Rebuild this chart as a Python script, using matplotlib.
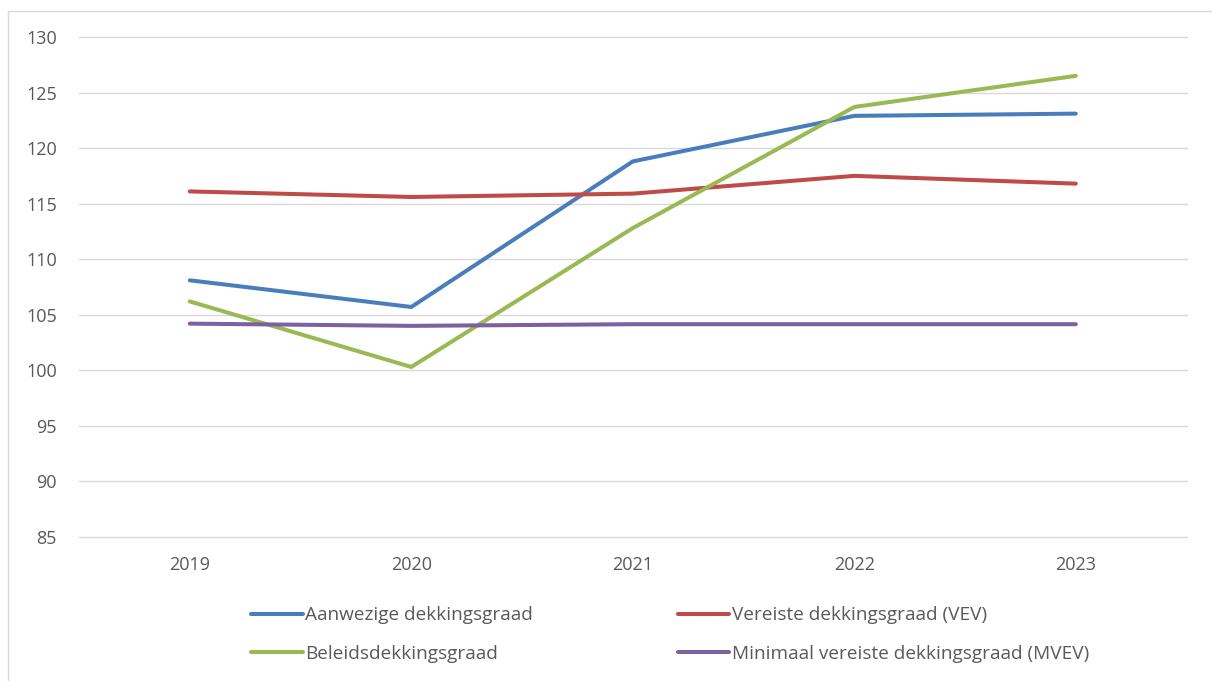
import matplotlib.pyplot as plt
from matplotlib.patches import Rectangle

# Data
years = ['2019', '2020', '2021', '2022', '2023']
aanwezig = [108.1, 105.7, 118.8, 122.9, 123.1]
vereist = [116.1, 115.6, 115.9, 117.5, 116.8]
beleid = [106.2, 100.3, 112.8, 123.7, 126.5]
minimaal = [104.2, 104.0, 104.15, 104.15, 104.15]

series = [
    ('Aanwezige dekkingsgraad', aanwezig, '#4A7EBB'),
    ('Vereiste dekkingsgraad (VEV)', vereist, '#BE4B48'),
    ('Beleidsdekkingsgraad', beleid, '#98B954'),
    ('Minimaal vereiste dekkingsgraad (MVEV)', minimaal, '#7D60A0'),
]

plt.rcParams['font.family'] = ['Open Sans', 'DejaVu Sans']
text_color = '#595959'

fig = plt.figure(figsize=(12.12, 6.81), dpi=100)
ax = fig.add_axes([0.0652, 0.2115, 0.9138, 0.7342])

x = range(len(years))
handles = []
for name, vals, color in series:
    h, = ax.plot(x, vals, color=color, linewidth=2.9, solid_capstyle='round',
                 solid_joinstyle='miter', label=name)
    handles.append(h)

ax.set_xlim(-0.5, len(years) - 0.5)
ax.set_ylim(85, 130)
ax.set_yticks(range(85, 131, 5))
ax.set_xticks(list(x))
ax.set_xticklabels(years)
ax.grid(axis='y', color='#D9D9D9', linewidth=1)
for gl in ax.get_ygridlines():
    gl.set_clip_on(False)
ax.set_axisbelow(True)
for s in ax.spines.values():
    s.set_visible(False)
ax.tick_params(axis='both', length=0, labelsize=13, colors=text_color)
ax.tick_params(axis='y', pad=16)
ax.tick_params(axis='x', pad=14)

# chart area border
fig.patches.append(Rectangle((8 / 1212, -0.1), 1.2, 1 - 11 / 681 + 0.1,
                             transform=fig.transFigure, fill=False,
                             edgecolor='#D9D9D9', linewidth=1))

# legend, two columns
leg = fig.legend(handles=[handles[0], handles[2], handles[1], handles[3]],
                 loc='center', bbox_to_anchor=(0.553, 0.068), ncol=2,
                 frameon=False, fontsize=13.7, handlelength=2.7,
                 handletextpad=0.15, columnspacing=7.6, labelspacing=1.1)
for t in leg.get_texts():
    t.set_color(text_color)

fig.savefig('out.png', dpi=100)
